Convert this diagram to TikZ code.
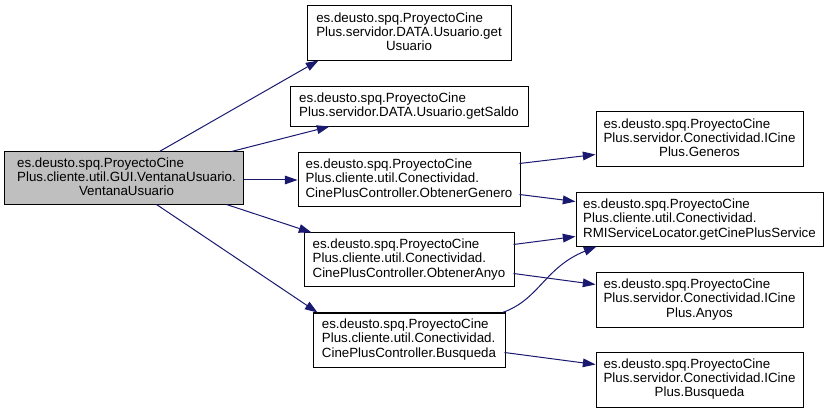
\documentclass[tikz,border=0pt]{standalone}
\usepackage{fontspec}
\setmainfont{Liberation Sans}
\usetikzlibrary{arrows.meta,calc}
\definecolor{edgeblue}{RGB}{25,25,112}
\definecolor{mainfill}{RGB}{191,191,191}
\newcommand{\threel}[3]{\begin{tabular}{@{}l@{}}#1\\#2\\\multicolumn{1}{@{}c@{}}{#3}\end{tabular}}
\newcommand{\threelshift}[3]{\begin{tabular}{@{\hspace{4.5pt}}l@{}}#1\\#2\\\multicolumn{1}{@{\hspace{4.5pt}}c@{}}{#3}\end{tabular}}
\newcommand{\twol}[2]{\begin{tabular}{@{}l@{}}#1\\#2\end{tabular}}
\tikzset{
  fn/.style={draw=black, line width=0.75pt, fill=white, inner sep=0pt, font=\fontsize{10}{10.7}\selectfont},
  mainfn/.style={fn, fill=mainfill},
  sz/.style 2 args={minimum width={#1*0.75pt}, minimum height={#2*0.75pt}},
  call/.style={draw=edgeblue, line width=0.75pt, -{Triangle[length=9.5pt,width=6.5pt,fill=edgeblue]}},
}
\begin{document}
\begin{tikzpicture}[x=0.75pt,y=-0.75pt]
\useasboundingbox (0,0) rectangle (828,413);
% nodes
\node[mainfn, sz={239}{53}] (main) at (123.5,178.5)
  {\threelshift{es.deusto.spq.ProyectoCine}{Plus.cliente.util.GUI.VentanaUsuario.}{VentanaUsuario}};
\node[fn, sz={204}{55}] (getU) at (409,33.5)
  {\threel{es.deusto.spq.ProyectoCine}{Plus.servidor.DATA.Usuario.get}{Usuario}};
\node[fn, sz={238}{40}] (getS) at (409,107)
  {\twol{es.deusto.spq.ProyectoCine}{Plus.servidor.DATA.Usuario.getSaldo}};
\node[fn, sz={222}{54}] (obtG) at (409,180)
  {\threel{es.deusto.spq.ProyectoCine}{Plus.cliente.util.Conectividad.}{CinePlusController.ObtenerGenero}};
\node[fn, sz={210}{54}] (obtA) at (409,260)
  {\threel{es.deusto.spq.ProyectoCine}{Plus.cliente.util.Conectividad.}{CinePlusController.ObtenerAnyo}};
\node[fn, sz={192}{54}] (busq) at (409,340)
  {\threel{es.deusto.spq.ProyectoCine}{Plus.cliente.util.Conectividad.}{CinePlusController.Busqueda}};
\node[fn, sz={207}{55}] (gen) at (699.5,139.5)
  {\threel{es.deusto.spq.ProyectoCine}{Plus.servidor.Conectividad.ICine}{Plus.Generos}};
\node[fn, sz={247}{54}] (rmi) at (699.5,220)
  {\threel{es.deusto.spq.ProyectoCine}{Plus.cliente.util.Conectividad.}{RMIServiceLocator.getCinePlusService}};
\node[fn, sz={207}{54}] (any) at (699.5,300)
  {\threel{es.deusto.spq.ProyectoCine}{Plus.servidor.Conectividad.ICine}{Plus.Anyos}};
\node[fn, sz={207}{55}] (icb) at (699.5,379.5)
  {\threel{es.deusto.spq.ProyectoCine}{Plus.servidor.Conectividad.ICine}{Plus.Busqueda}};
% edges
\draw[call] ($(main.north west)+(156,0)$) -- ($(getU.north west)+(12,55)$);
\draw[call] ($(main.north west)+(228,0)$) -- ($(getS.north west)+(40,40)$);
\draw[call] (main.east |- obtG.west) -- (obtG.west);
\draw[call] ($(main.north west)+(223,53)$) -- ($(obtA.north west)+(8,0)$);
\draw[call] ($(main.north west)+(153,53)$) -- ($(busq.north west)+(5,0)$);
\draw[call] ($(obtG.north west)+(222,11)$) -- ($(gen.north west)+(0,43)$);
\draw[call] ($(obtG.north west)+(222,42)$) -- ($(rmi.north west)+(0,9)$);
\draw[call] ($(obtA.north west)+(210,12)$) -- ($(rmi.north west)+(0,44)$);
\draw[call] ($(obtA.north west)+(210,41)$) -- ($(any.north west)+(0,12)$);
\draw[call] ($(busq.north west)+(190,0)$) .. controls ($(busq.north west)+(227,-13)$) and ($(busq.north west)+(232,-45)$) .. ($(rmi.north west)+(21,54)$);
\draw[call] ($(busq.north west)+(192,40)$) -- ($(icb.north west)+(0,13)$);
\end{tikzpicture}
\end{document}
